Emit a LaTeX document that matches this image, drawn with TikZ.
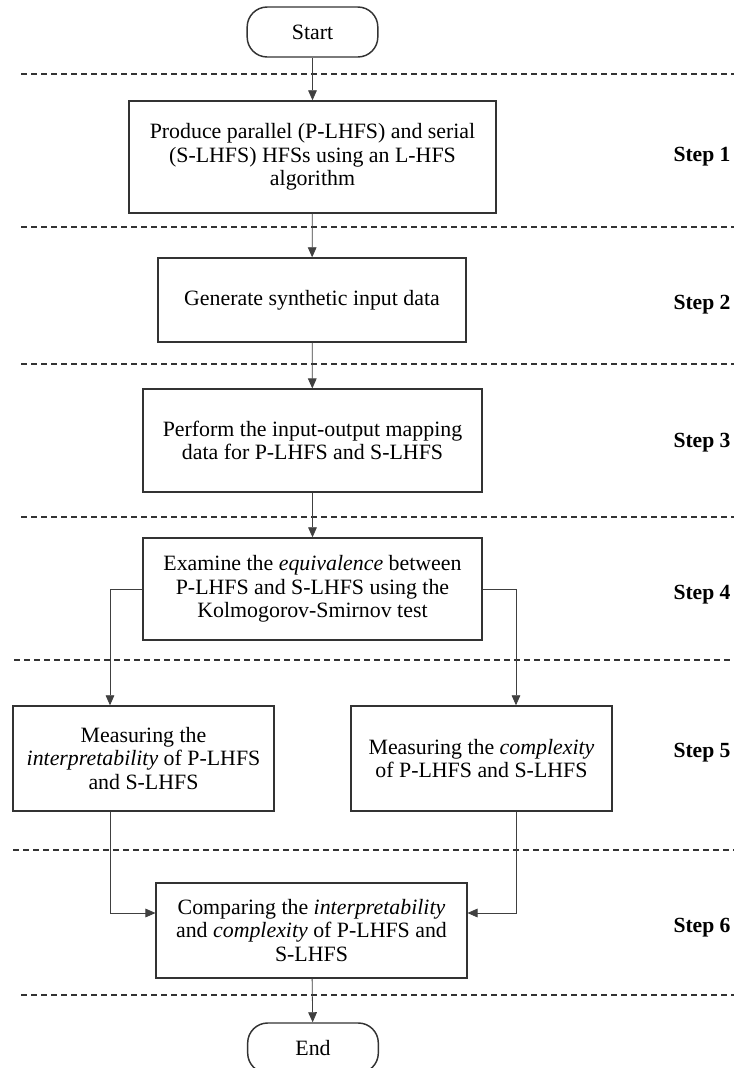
\documentclass[tikz,border=0pt]{standalone}
\usepackage{fontspec}
\setmainfont{Liberation Serif}
\usetikzlibrary{arrows.meta,calc}

\begin{document}
\begin{tikzpicture}[x=0.75pt,y=-0.75pt,
  box/.style={draw=black!80,line width=1.1pt,align=center,inner sep=2pt,
    font=\fontsize{16.4}{17.8}\selectfont},
  term/.style={box,rounded corners=15pt,minimum width=98pt,minimum height=37.5pt},
  sep/.style={dash pattern=on 4.5pt off 3pt,line width=1.2pt,black!80},
  flow/.style={draw=black!75,line width=0.6pt,-{Triangle[length=7.5pt,width=6.5pt]}},
  steplbl/.style={font=\fontsize{16.2}{17.8}\selectfont\bfseries}]
\useasboundingbox[fill=white] (0,0) rectangle (734,1068);

% dashed separators between the steps
\foreach \y/\x in {74/21,227/21,364/21,517/21,660/14,850/13,995/21}
  \draw[sep] (\x,\y) -- (734,\y);

\foreach \n/\y in {1/157,2/305,3/443,4/595,5/753,6/928}
  \node[steplbl] (step\n) at (702,\y) {Step \n};

\node[term] (start) at (312.5,32) {Start};
\node[box,minimum width=275pt,minimum height=84pt] (prod) at (312.5,157)
  {Produce parallel (P-LHFS) and serial\\(S-LHFS) HFSs using an L-HFS\\algorithm};
\node[box,minimum width=231pt,minimum height=63pt] (gen) at (312,300)
  {Generate synthetic input data};
\node[box,minimum width=254pt,minimum height=77pt] (perf) at (312.5,440.5)
  {Perform the input-output mapping\\data for P-LHFS and S-LHFS};
\node[box,minimum width=254pt,minimum height=76.5pt] (exam) at (312.5,589)
  {Examine the \emph{equivalence} between\\P-LHFS and S-LHFS using the\\Kolmogorov-Smirnov test};
\node[box,minimum width=195.75pt,minimum height=78.75pt] (interp) at (143.5,758.5)
  {Measuring the\\\emph{interpretability} of P-LHFS\\and S-LHFS};
\node[box,minimum width=195.75pt,minimum height=78.75pt] (cmplx) at (481.5,758.5)
  {Measuring the \emph{complexity}\\of P-LHFS and S-LHFS};
\node[box,minimum width=233pt,minimum height=71pt] (comp) at (311.5,930.5)
  {Comparing the \emph{interpretability}\\and \emph{complexity} of P-LHFS and\\S-LHFS};
\node[term] (stop) at (313,1048) {End};

\coordinate (lx) at (110,0);
\coordinate (rx) at (516,0);
\coordinate (my) at (0,913);

\draw[flow] (start) -- (prod);
\draw[flow] (prod) -- (gen);
\draw[flow] (gen) -- (perf);
\draw[flow] (perf) -- (exam);
\draw[flow] (exam.west) -| (interp.north -| lx);
\draw[flow] (exam.east) -| (cmplx.north -| rx);
\draw[flow] (interp.south -| lx) |- (comp.west |- my);
\draw[flow] (cmplx.south -| rx) |- (comp.east |- my);
\draw[flow] (comp) -- (stop);
\end{tikzpicture}
\end{document}
